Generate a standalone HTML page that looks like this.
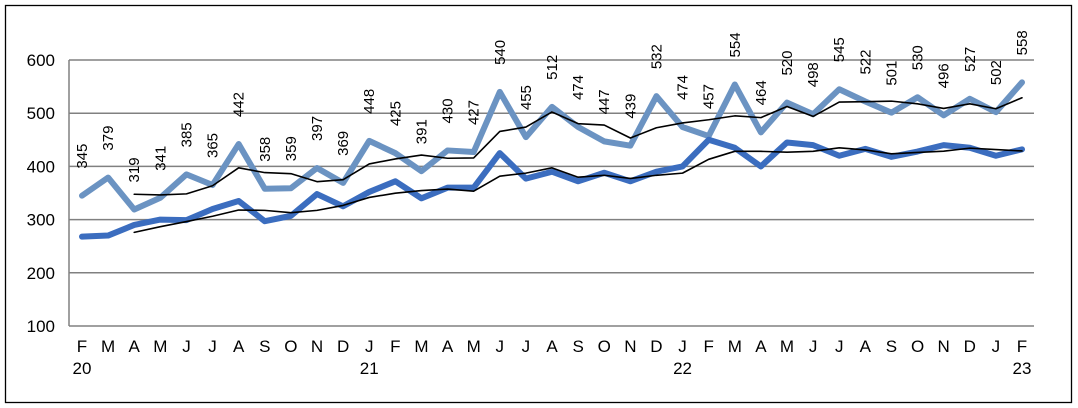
<!DOCTYPE html>
<html><head><meta charset="utf-8"><style>
body{margin:0;background:#fff;}
svg{display:block;font-family:"Liberation Sans",Arial,sans-serif;}
</style></head><body>
<svg width="1078" height="408">
<rect x="5.5" y="5.5" width="1066" height="397" fill="#fff" stroke="#000" stroke-width="1.3"/>
<g id="grid"></g><g id="series"></g><g id="labels"></g>
</svg>
<script>
const months=["F","M","A","M","J","J","A","S","O","N","D","J","F","M","A","M","J","J","A","S","O","N","D","J","F","M","A","M","J","J","A","S","O","N","D","J","F"];
const years={0:"20",11:"21",23:"22",36:"23"};
const upper=[345,379,319,341,385,365,442,358,359,397,369,448,425,391,430,427,540,455,512,474,447,439,532,474,457,554,464,520,498,545,522,501,530,496,527,502,558];
const lower=[268,270,290,300,299,320,335,297,307,348,325,352,372,340,360,360,425,377,390,372,388,372,390,400,450,435,400,445,440,420,433,418,428,440,435,420,432];
const yTicks=[100,200,300,400,500,600];
const NS="http://www.w3.org/2000/svg";
const x0=82,x1=1022,yTop=60,yBot=326;
const X=i=>x0+i*(x1-x0)/(months.length-1);
const Y=v=>yBot-(v-100)/500*(yBot-yTop);
function mk(t,a,p){const e=document.createElementNS(NS,t);for(const k in a)e.setAttribute(k,a[k]);p.appendChild(e);return e;}
const grid=document.getElementById('grid'),ser=document.getElementById('series'),lab=document.getElementById('labels');
yTicks.forEach(v=>{
 const l=mk('line',{x1:69,x2:1034,y1:Y(v),y2:Y(v),stroke:'#808080','stroke-width':1.5},grid);
 
 const t=mk('text',{x:55,y:Y(v)+6,'text-anchor':'end','font-size':17},grid);t.textContent=v;
 
});
const ax=mk('line',{x1:69,x2:69,y1:yTop,y2:yBot,stroke:'#808080','stroke-width':1.5},grid);

months.forEach((m,i)=>{
 const t=mk('text',{x:X(i),y:352,'text-anchor':'middle','font-size':17},grid);t.textContent=m;
 
 if(years[i]){const y=mk('text',{x:X(i),y:374,'text-anchor':'middle','font-size':17},grid);y.textContent=years[i];
 }
});
function ma(a){const r=[];for(let i=2;i<a.length;i++)r.push([i,(a[i]+a[i-1]+a[i-2])/3]);return r;}
function line(pts,col,w,name){
 const p=mk('polyline',{points:pts.map(q=>X(q[0])+','+Y(q[1])).join(' '),fill:'none',stroke:col,'stroke-width':w,'stroke-linejoin':'round','stroke-linecap':'round'},ser);
 
}
line(upper.map((v,i)=>[i,v]),'#6b93c2',6,'series-upper');
line(lower.map((v,i)=>[i,v]),'#3b6dbf',6,'series-lower');
line(ma(upper),'#000',1.6,'moving-average-upper');
line(ma(lower),'#000',1.6,'moving-average-lower');
upper.forEach((v,i)=>{
 const x=X(i)+5,y=Y(v)-27;
 const t=mk('text',{x:x,y:y,'font-size':15,transform:`rotate(-90 ${x} ${y})`},lab);t.textContent=v;
 
});
</script>
</body></html>
